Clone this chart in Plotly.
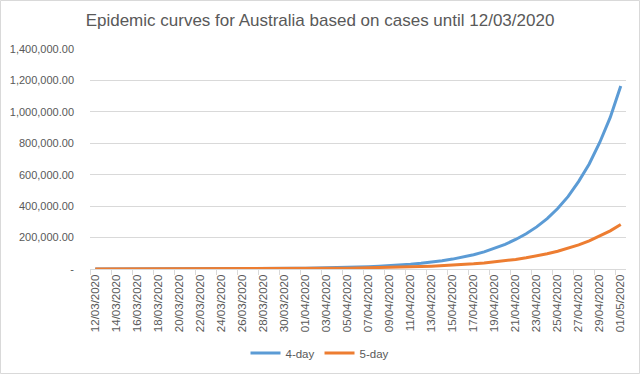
import plotly.graph_objects as go
import pandas as pd

dates = pd.date_range("2020-03-12", "2020-05-01", freq="D")

four_day = [131, 157, 188, 226, 272, 325, 390, 470, 565, 680,
            810, 975, 1170, 1400, 1700, 2000, 2400, 2900, 3500, 4200,
            5000, 6000, 7200, 8700, 10400, 12500, 15000, 18000, 21500, 26000,
            31000, 37000, 44000, 53000, 63000, 76000, 91000, 109000, 131000, 157000,
            188000, 224000, 268000, 321000, 385000, 462000, 558000, 668000, 805000, 965000,
            1165000]

five_day = [131, 153, 178, 208, 242, 282, 329, 384, 447, 522,
            608, 709, 827, 964, 1124, 1311, 1528, 1782, 2078, 2423,
            2825, 3294, 3841, 4478, 5222, 6088, 7099, 8278, 9652, 11254,
            13122, 15300, 17840, 20802, 24255, 28281, 32976, 38450, 44832, 52274,
            60952, 71070, 82867, 96623, 112663, 131365, 153171, 178597, 208244, 242813,
            283120]

y_tick_vals = [0, 200000, 400000, 600000, 800000, 1000000, 1200000, 1400000]
y_tick_text = ["-", "200,000.00", "400,000.00", "600,000.00", "800,000.00",
               "1,000,000.00", "1,200,000.00", "1,400,000.00"]

title_text = "Epidemic curves for Australia based on cases until 12/03/2020"

FONT = "Liberation Sans, Arial, sans-serif"
GREY = "#595959"

fig = go.Figure()
fig.add_trace(go.Scatter(x=dates, y=four_day, mode="lines", name="4-day",
                         line=dict(color="#5B9BD5", width=3)))
fig.add_trace(go.Scatter(x=dates, y=five_day, mode="lines", name="5-day",
                         line=dict(color="#ED7D31", width=3)))

W, H = 640, 374
L, R, T, B = 90, 14, 49, 105
pw, ph = W - L - R, H - T - B

fig.update_layout(
    width=W, height=H,
    margin=dict(l=L, r=R, t=T, b=B, autoexpand=False),
    paper_bgcolor="white", plot_bgcolor="white",
    font=dict(family=FONT, color=GREY, size=11),
    title=dict(text=title_text, x=0.5, xanchor="center", y=1 - 20 / H, yanchor="middle",
               font=dict(family=FONT, size=17, color=GREY)),
    showlegend=True,
    legend=dict(orientation="h", xref="container", x=0.5, xanchor="center",
                yref="container", y=1 - 353 / H,
                yanchor="middle", font=dict(size=11.5, color=GREY), itemwidth=30),
    xaxis=dict(
        type="date", automargin=False,
        range=[pd.Timestamp("2020-03-11 12:00"), pd.Timestamp("2020-05-01 12:00")],
        tickmode="linear", tick0="2020-03-12", dtick=2 * 86400000,
        tickformat="%d/%m/%Y", tickangle=-90, ticks="",
        tickfont=dict(size=11.5, color=GREY),
        showgrid=False, zeroline=False,
        showline=True, linecolor="#D9D9D9", linewidth=1,
        minor=dict(tickmode="linear", tick0="2020-03-11 12:00", dtick=2 * 86400000,
                   ticks="outside", ticklen=5, tickcolor="#D9D9D9", showgrid=False),
    ),
    yaxis=dict(
        automargin=False,
        range=[0, 1400000], tickvals=y_tick_vals, ticktext=y_tick_text,
        showgrid=True, gridcolor="#D9D9D9", gridwidth=1,
        zeroline=False, showline=False, ticks="",
        tickfont=dict(size=11, color=GREY), ticklabelstandoff=15,
    ),
    shapes=[dict(type="rect", xref="paper", yref="paper",
                 x0=-(L - 0.5) / pw, x1=(W - L - 0.5) / pw,
                 y0=-(B - 0.5) / ph, y1=1 + (T - 0.5) / ph,
                 line=dict(color="#D9D9D9", width=1), fillcolor="rgba(0,0,0,0)",
                 layer="below")],
)

fig.write_html("out.html", config={"displayModeBar": False},
               post_script="document.body.style.margin='0px';document.body.style.overflow='hidden';")
